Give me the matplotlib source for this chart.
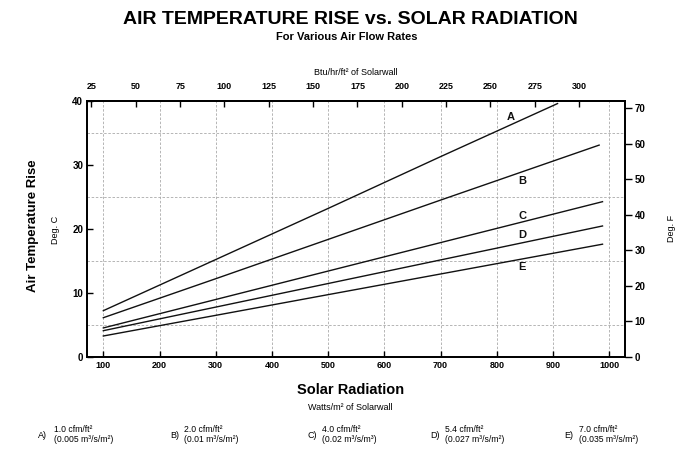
import matplotlib
matplotlib.use("Agg")
import matplotlib.pyplot as plt
import numpy as np

plt.rcParams['font.family'] = ['Liberation Sans', 'DejaVu Sans']

# ---- data ----
radiation_A = [100, 300, 500, 700, 908]
temp_A = [7.2, 15.2, 23.2, 31.3, 39.6]
radiation_B = [100, 300, 500, 700, 982]
temp_B = [6.1, 12.2, 18.35, 24.5, 33.1]
radiation_C = [100, 300, 500, 700, 988]
temp_C = [4.5, 8.95, 13.4, 17.85, 24.25]
radiation_D = [100, 300, 500, 700, 988]
temp_D = [4.07, 7.76, 11.45, 15.14, 20.45]
radiation_E = [100, 300, 500, 700, 988]
temp_E = [3.24, 6.47, 9.71, 12.94, 17.6]

series_names = ['A', 'B', 'C', 'D', 'E']
label_pos_x = [824, 846, 846, 845, 845]
label_pos_y = [37.5, 27.5, 22.0, 19.0, 14.1]

bottom_ticks = [100, 200, 300, 400, 500, 600, 700, 800, 900, 1000]
top_ticks = [25, 50, 75, 100, 125, 150, 175, 200, 225, 250, 275, 300]
left_ticks = [0, 10, 20, 30, 40]
right_ticks = [0, 10, 20, 30, 40, 50, 60, 70]

legend_flow = ['1.0 cfm/ft²', '2.0 cfm/ft²', '4.0 cfm/ft²', '5.4 cfm/ft²', '7.0 cfm/ft²']
legend_si = ['(0.005 m³/s/m²)', '(0.01 m³/s/m²)', '(0.02 m³/s/m³)',
             '(0.027 m³/s/m²)', '(0.035 m³/s/m²)']

W_PER_BTU = 3.1546

fig = plt.figure(figsize=(6.94, 4.53), dpi=100)
ax = fig.add_axes([87.3/694, 1-356.7/453, (625-87.3)/694, (356.7-101)/453])

series = [(radiation_A, temp_A), (radiation_B, temp_B), (radiation_C, temp_C),
          (radiation_D, temp_D), (radiation_E, temp_E)]
for (xs, ys) in series:
    ax.plot(xs, ys, color='#111111', lw=1.0, zorder=3)
for name, lx, ly in zip(series_names, label_pos_x, label_pos_y):
    ax.text(lx, ly, name, ha='center', va='center', fontsize=8, fontweight='bold', color='#111111')

ax.set_xlim(71.5, 1028)
ax.set_ylim(0, 40)
ax.set_xticks(bottom_ticks)
ax.set_yticks(left_ticks)
ax.set_yticks(np.arange(0, 41, 5), minor=True)
ax.grid(True, which='major', axis='x', linestyle=(0, (3, 2)), color='#aaaaaa', lw=0.6)
ax.grid(True, which='minor', axis='y', linestyle=(0, (3, 2)), color='#aaaaaa', lw=0.6)
ax.tick_params(axis='x', direction='in', length=4, width=1, labelsize=6.5, pad=3)
ax.tick_params(axis='y', direction='in', length=4, width=1, labelsize=7, pad=3)
ax.tick_params(axis='y', which='minor', length=0)
for lab in ax.get_xticklabels() + ax.get_yticklabels():
    lab.set_fontweight('bold')
for s in ax.spines.values():
    s.set_linewidth(1.3)
    s.set_color('#111111')

# top axis (Btu/hr/ft^2)
top = ax.secondary_xaxis('top', functions=(lambda w: w / W_PER_BTU, lambda b: b * W_PER_BTU))
top.set_xticks(top_ticks)
top.tick_params(direction='in', length=4, width=1, labelsize=6.5, pad=7)
for lab in top.get_xticklabels():
    lab.set_fontweight('bold')
top.spines['top'].set_linewidth(1.3)
top.set_xlabel('Btu/hr/ft² of Solarwall', fontsize=6.5, labelpad=5)

# right axis (Deg F)
axr = ax.twinx()
axr.set_ylim(0, 40 * 1.8)
axr.set_yticks(right_ticks)
axr.tick_params(axis='y', direction='out', length=5, width=1, labelsize=7, pad=2)
for lab in axr.get_yticklabels():
    lab.set_fontweight('bold')
for s in axr.spines.values():
    s.set_linewidth(1.3)

# axis titles
fig.text(33/694, 1-226/453, 'Air Temperature Rise', rotation=90, ha='center', va='center',
         fontsize=9.5, fontweight='bold')
fig.text(55/694, 1-230/453, 'Deg. C', rotation=90, ha='center', va='center', fontsize=6.5)
fig.text(671/694, 1-228/453, 'Deg. F', rotation=90, ha='center', va='center', fontsize=6.5)
fig.text(351/694, 1-390/453, 'Solar Radiation', ha='center', va='center', fontsize=10.5, fontweight='bold')
fig.text(350/694, 1-407/453, 'Watts/m² of Solarwall', ha='center', va='center', fontsize=6.5)

# titles
fig.text(350/694, 1-19/453, 'AIR TEMPERATURE RISE vs. SOLAR RADIATION', ha='center', va='center',
         fontsize=14, fontweight='heavy')
fig.text(347/694, 1-37/453, 'For Various Air Flow Rates', ha='center', va='center',
         fontsize=8, fontweight='bold')

# legend row
letter_x = [38, 170, 307, 430, 564]
text_x = [54, 184, 322, 445, 579]
for name, lx, tx, f1, f2 in zip(series_names, letter_x, text_x, legend_flow, legend_si):
    fig.text(lx/694, 1-436/453, name + ')', ha='left', va='center', fontsize=6.5)
    fig.text(tx/694, 1-430/453, f1, ha='left', va='center', fontsize=6.2)
    fig.text(tx/694, 1-440/453, f2, ha='left', va='center', fontsize=6.2)

fig.savefig('out.png', dpi=100)
